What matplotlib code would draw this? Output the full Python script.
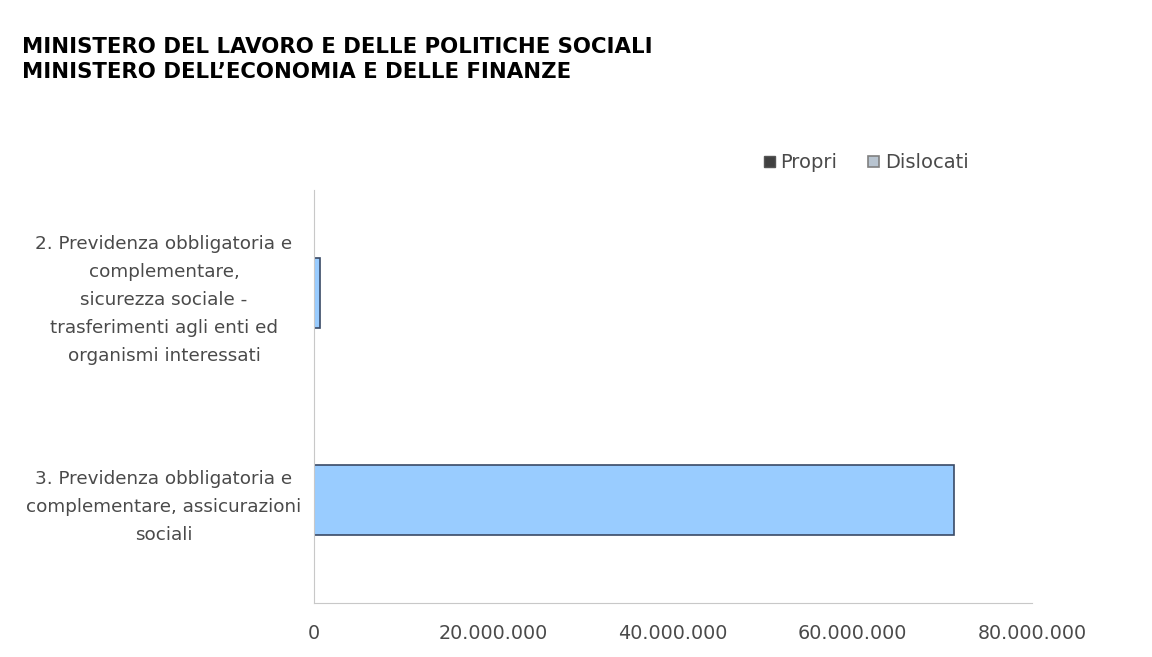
import matplotlib.pyplot as plt
from matplotlib.ticker import FuncFormatter

categories = ['2. Previdenza obbligatoria e\ncomplementare,\nsicurezza sociale -\ntrasferimenti agli enti ed\norganismi interessati',
              '3. Previdenza obbligatoria e\ncomplementare, assicurazioni\nsociali']
propri = [0, 0]
dislocati = [700000, 71300000]
xticks = [0, 20000000, 40000000, 60000000, 80000000]

plt.rcParams['font.family'] = ['DejaVu Sans']

fig = plt.figure(figsize=(11.52, 6.57), dpi=100)
ax = fig.add_axes([0.2726, 0.0822, 0.6232, 0.629])

ypos = [1, 0]  # first category on top
ax.barh(ypos, propri, height=0.34, color='#404040', label='Propri')
ax.barh(ypos, dislocati, left=propri, height=0.34, color='#99CCFF',
        edgecolor='#3A4A66', linewidth=1.2, label='Dislocati')

ax.set_xlim(0, 80000000)
ax.set_ylim(-0.5, 1.5)
ax.set_yticks(ypos)
ax.set_yticklabels(categories, fontsize=13.2, color='#4A4A4A',
                   ha='center', linespacing=1.72)
ax.tick_params(axis='y', length=0, pad=108)
ax.set_xticks(xticks)
ax.xaxis.set_major_formatter(FuncFormatter(lambda v, p: f'{int(v):,}'.replace(',', '.')))
ax.tick_params(axis='x', length=0, pad=15, labelsize=13.8, labelcolor='#4A4A4A')

for s in ['top', 'right']:
    ax.spines[s].set_visible(False)
ax.spines['left'].set_color('#C8C8C8')
ax.spines['bottom'].set_color('#C8C8C8')

leg = fig.legend(loc='center', bbox_to_anchor=(0.752, 0.752), ncol=2, frameon=False,
                 fontsize=14, handlelength=0.55, handleheight=0.55, handletextpad=0.3,
                 columnspacing=1.6, labelcolor='#4A4A4A')
leg.legend_handles[0].set_edgecolor('#555555')
leg.legend_handles[1].set_edgecolor('#808080')
leg.legend_handles[1].set_facecolor('#B8C4D0')

fig.text(0.019, 0.928, 'MINISTERO DEL LAVORO E DELLE POLITICHE SOCIALI',
         fontsize=15.3, fontweight='bold', va='center')
fig.text(0.019, 0.89, 'MINISTERO DELL\u2019ECONOMIA E DELLE FINANZE',
         fontsize=15.3, fontweight='bold', va='center')

fig.savefig('out.png', dpi=100)
